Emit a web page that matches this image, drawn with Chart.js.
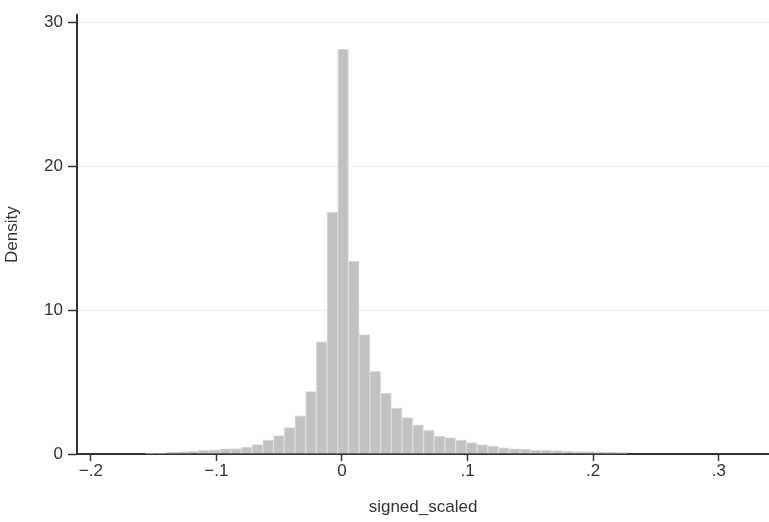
<!DOCTYPE html>
<html>
<head>
<meta charset="utf-8">
<script src="https://cdn.jsdelivr.net/npm/chart.js@4/dist/chart.umd.min.js"></script>
<style>
  body { margin: 0; background: #fff; }
</style>
</head>
<body>
<canvas id="hist" width="769" height="522"></canvas>
<script>
// bin centres of signed_scaled (45 bins)
const binCenters = [
  -0.15264, -0.14411, -0.13558, -0.12705, -0.11852, -0.10999, -0.10146, -0.09293, -0.08440,
  -0.07587, -0.06734, -0.05881, -0.05028, -0.04175, -0.03322, -0.02469, -0.01616, -0.00763,
   0.00090,  0.00943,  0.01796,  0.02649,  0.03502,  0.04355,  0.05208,  0.06061,  0.06914,
   0.07767,  0.08620,  0.09473,  0.10326,  0.11179,  0.12032,  0.12885,  0.13738,  0.14591,
   0.15444,  0.16297,  0.17150,  0.18003,  0.18856,  0.19709,  0.20562,  0.21415,  0.22268
];
// density per bin
const density = [
  0.05, 0.07, 0.12, 0.15, 0.18, 0.25, 0.29, 0.36, 0.37,
  0.48, 0.66, 0.96, 1.28, 1.83, 2.65, 4.34, 7.8, 16.8,
  28.15, 13.4, 8.3, 5.75, 4.22, 3.2, 2.53, 2.03, 1.64,
  1.25, 1.15, 0.96, 0.8, 0.66, 0.55, 0.43, 0.36, 0.35,
  0.27, 0.26, 0.23, 0.2, 0.17, 0.16, 0.14, 0.13, 0.1
];
const xTicks = [-0.2, -0.1, 0, 0.1, 0.2, 0.3];
const yTicks = [0, 10, 20, 30];

const points = binCenters.map((c, i) => ({ x: c, y: density[i] }));

function fmtX(v) {
  if (Math.abs(v) < 1e-9) return "0";
  let s = Math.abs(v).toFixed(1).replace(/^0/, "");
  return (v < 0 ? "\u2212" : "") + s;
}

const font = { family: "'Liberation Sans', Arial, sans-serif", size: 17 };
const ink = "#333333";

new Chart(document.getElementById("hist"), {
  type: "bar",
  data: {
    datasets: [{
      data: points,
      backgroundColor: "#c2c2c2",
      borderColor: "#dcdcdc",
      borderWidth: 1,
      barPercentage: 1,
      categoryPercentage: 1
    }]
  },
  options: {
    responsive: false,
    animation: false,
    layout: { padding: { top: 0, right: 0, left: 0, bottom: 0 } },
    plugins: { legend: { display: false }, tooltip: { enabled: false } },
    scales: {
      x: {
        type: "linear",
        offset: false,
        min: -0.211,
        max: 0.34,
        afterBuildTicks: s => { s.ticks = xTicks.map(v => ({ value: v })); },
        afterFit: s => { s.height = 68; },
        grid: { display: true, offset: false, drawOnChartArea: false, tickLength: 7, tickColor: ink, tickWidth: 1.5 },
        border: { color: ink, width: 2 },
        ticks: { color: ink, font: font, padding: 0, maxRotation: 0, callback: v => fmtX(v) },
        title: { display: true, text: "signed_scaled", color: ink, font: font, padding: { top: 4 } }
      },
      y: {
        min: 0,
        max: 30.5,
        afterBuildTicks: s => { s.ticks = yTicks.map(v => ({ value: v })); },
        afterFit: s => { s.width = 77; },
        grid: { color: "#ececec", tickColor: ink, tickLength: 9, tickWidth: 1.5 },
        border: { color: ink, width: 2 },
        ticks: { color: ink, font: font, padding: 5 },
        title: { display: true, text: "Density", color: ink, font: font, padding: { top: 2, bottom: 6 } }
      }
    }
  }
});
</script>
</body>
</html>
